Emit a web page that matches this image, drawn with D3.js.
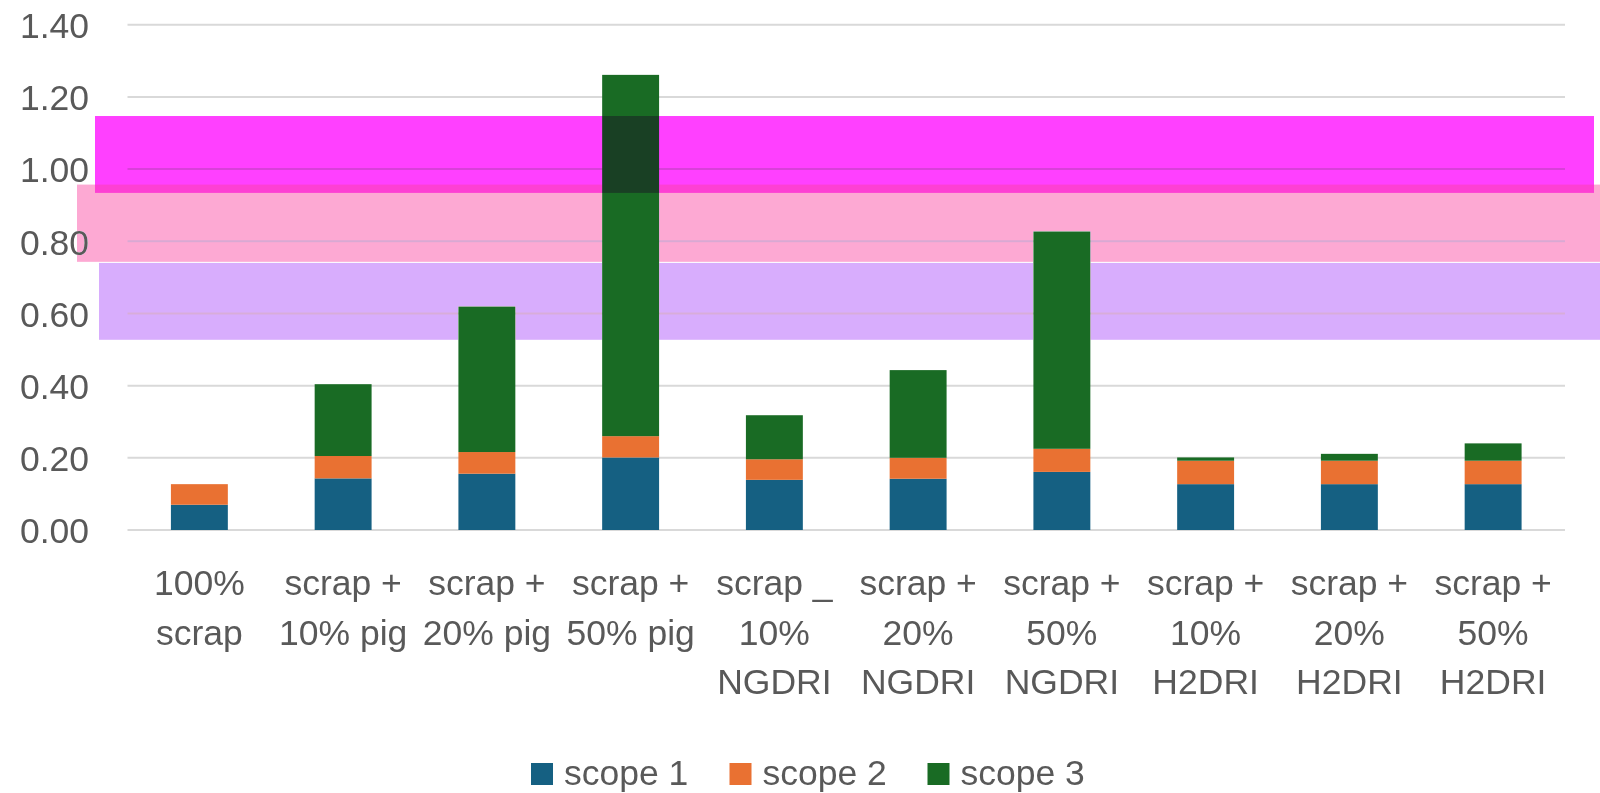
<!DOCTYPE html>
<html>
<head>
<meta charset="utf-8">
<script src="https://cdn.jsdelivr.net/npm/d3@7/dist/d3.min.js"></script>
<style>
  html, body { margin: 0; padding: 0; background: #ffffff; }
  svg { display: block; }
  text { font-family: "Liberation Sans", Arial, sans-serif; fill: #595959; }
</style>
</head>
<body>
<svg id="chart" width="1600" height="793"></svg>
<script>
// Steelmaking routes: emissions per route split by scope
const categories = [
  ["100%", "scrap"],
  ["scrap +", "10% pig"],
  ["scrap +", "20% pig"],
  ["scrap +", "50% pig"],
  ["scrap _", "10%", "NGDRI"],
  ["scrap +", "20%", "NGDRI"],
  ["scrap +", "50%", "NGDRI"],
  ["scrap +", "10%", "H2DRI"],
  ["scrap +", "20%", "H2DRI"],
  ["scrap +", "50%", "H2DRI"]
];
const seriesNames = ["scope 1", "scope 2", "scope 3"];
const scope1 = [0.070, 0.143, 0.156, 0.201, 0.139, 0.142, 0.161, 0.127, 0.127, 0.127];
const scope2 = [0.057, 0.062, 0.060, 0.059, 0.057, 0.058, 0.064, 0.065, 0.065, 0.065];
const scope3 = [0.000, 0.199, 0.403, 1.001, 0.122, 0.243, 0.602, 0.009, 0.019, 0.048];
const yTicks = [0, 0.2, 0.4, 0.6, 0.8, 1.0, 1.2, 1.4];

// Reference ranges shown as shaded horizontal bands
const rangeLow  = [0.527, 0.743, 0.934];
const rangeHigh = [0.740, 0.957, 1.147];

const seriesColors = ["#156082", "#E97132", "#196B24"];
const rangeColors = ["#D8ADFD", "#FDA9D3", "#FF40FF"];
// horizontal extent of each band, in page pixels
const rangeX = [[99, 1600], [77, 1600], [95, 1594]];

const W = 1600, H = 793;
const plot = { left: 127.5, right: 1565, top: 24.7, bottom: 530 };
const fontSize = 35.5;

const svg = d3.select("#chart");
svg.append("rect").attr("width", W).attr("height", H).attr("fill", "#ffffff");

const x = d3.scaleBand()
  .domain(d3.range(categories.length))
  .range([plot.left, plot.right])
  .paddingInner(0.604)
  .paddingOuter(0.302);

const y = d3.scaleLinear()
  .domain([0, 1.4])
  .range([plot.bottom, plot.top]);

// gridlines
svg.append("g")
  .selectAll("line")
  .data(yTicks)
  .join("line")
  .attr("x1", plot.left)
  .attr("x2", plot.right)
  .attr("y1", d => y(d))
  .attr("y2", d => y(d))
  .attr("stroke", "#d9d9d9")
  .attr("stroke-width", 2);

// y-axis labels
const yAxis = d3.axisLeft(y).tickValues(yTicks).tickFormat(d3.format(".2f")).tickSize(0).tickPadding(0);
const yg = svg.append("g").attr("transform", `translate(89,0)`).call(yAxis);
yg.select(".domain").remove();
yg.selectAll("text")
  .attr("font-size", fontSize)
  .attr("font-family", "Liberation Sans, Arial, sans-serif")
  .attr("fill", "#595959")
  .attr("dy", "0.36em");

// stacked bars
const rows = categories.map((c, i) => ({ i, s0: scope1[i], s1: scope2[i], s2: scope3[i] }));
const stack = d3.stack().keys(["s0", "s1", "s2"]);
const layers = stack(rows);

svg.append("g")
  .selectAll("g")
  .data(layers)
  .join("g")
  .attr("fill", (d, k) => seriesColors[k])
  .selectAll("rect")
  .data(d => d)
  .join("rect")
  .attr("x", d => x(d.data.i))
  .attr("width", x.bandwidth())
  .attr("y", d => y(d[1]))
  .attr("height", d => Math.max(0, y(d[0]) - y(d[1])));

// shaded ranges, blended with "darken" over the bars and gridlines
svg.append("g")
  .selectAll("rect")
  .data(rangeLow.map((lo, k) => ({ lo, hi: rangeHigh[k], k })))
  .join("rect")
  .attr("x", d => rangeX[d.k][0])
  .attr("width", d => rangeX[d.k][1] - rangeX[d.k][0])
  .attr("y", d => y(d.hi))
  .attr("height", d => y(d.lo) - y(d.hi))
  .attr("fill", d => rangeColors[d.k])
  .style("mix-blend-mode", "darken");

// category labels
const lineGap = 49.5;
const xg = svg.append("g");
categories.forEach((lines, i) => {
  const t = xg.append("text")
    .attr("text-anchor", "middle")
    .attr("font-size", fontSize)
    .attr("x", x(i) + x.bandwidth() / 2)
    .attr("y", 595);
  lines.forEach((ln, j) => {
    t.append("tspan")
      .attr("x", x(i) + x.bandwidth() / 2)
      .attr("y", 595 + j * lineGap)
      .text(ln);
  });
});

// legend
const legendX = [531, 729.5, 927.5];
const lg = svg.append("g");
seriesNames.forEach((name, k) => {
  lg.append("rect")
    .attr("x", legendX[k])
    .attr("y", 763)
    .attr("width", 22)
    .attr("height", 22)
    .attr("fill", seriesColors[k]);
  lg.append("text")
    .attr("x", legendX[k] + 33)
    .attr("y", 785)
    .attr("font-size", fontSize)
    .text(name);
});
</script>
</body>
</html>
